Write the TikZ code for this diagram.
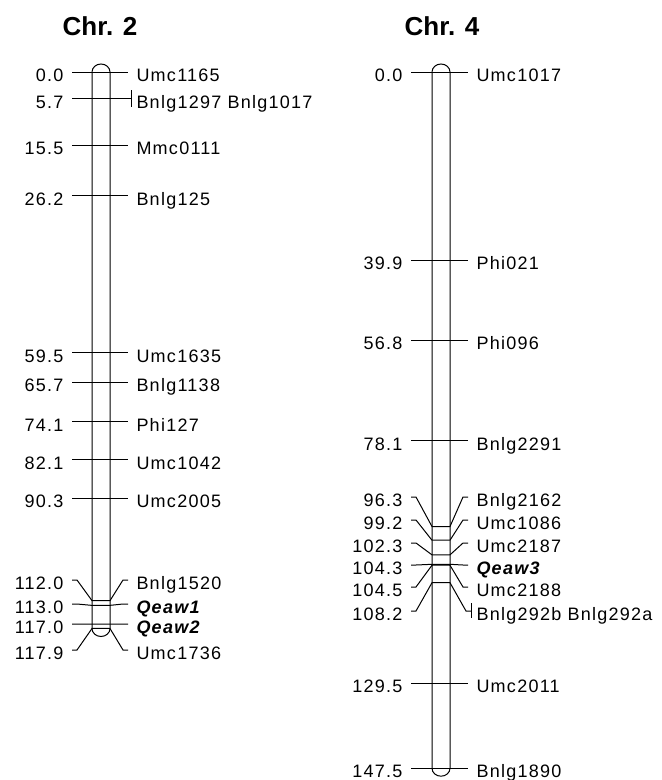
\documentclass[tikz,border=0pt]{standalone}
\usepackage{fontspec}
\setmainfont{Liberation Sans}[LetterSpace=7]
\newfontfamily\ttlfont{Liberation Sans}
\usetikzlibrary{positioning}

\begin{document}
\begin{tikzpicture}[
  x=1pt,y=-1pt,
  line width=1pt,
  font=\fontsize{18}{20}\selectfont,
  lab/.style={inner ysep=0pt,text height=22pt,text depth=3pt},
  lftlab/.style={lab,anchor=east,inner xsep=8pt},
  rgtlab/.style={lab,anchor=west,inner xsep=8pt},
  grplab/.style={lab,anchor=west,inner xsep=5pt},
  mk/.style={},
  qtl/.style={font=\fontsize{18}{20}\selectfont\bfseries\itshape},
  ttl/.style={font=\ttlfont\bfseries\fontsize{26}{28}\selectfont,anchor=base}
]
\useasboundingbox (0,0) rectangle (662,780);

% ---- titles ----
\node[ttl] (t2) at (100,35) {Chr. 2};
\node[ttl] (t4) at (442,35) {Chr. 4};

% ---- chromosome bars ----
\draw (92,{72+4.72*117.9}) -- (92,72)
  arc[start angle=180,end angle=0,x radius=9pt,y radius=8pt]
  -- (110,{72+4.72*117.9})
  arc[start angle=0,end angle=-180,x radius=9pt,y radius=8pt] -- cycle;
\draw (432,{72+4.72*147.5}) -- (432,72)
  arc[start angle=180,end angle=0,x radius=9pt,y radius=8pt]
  -- (450,{72+4.72*147.5})
  arc[start angle=0,end angle=-180,x radius=9pt,y radius=8pt] -- cycle;

% ---- Chr. 2: single markers ----
\foreach \p/\nm [count=\i] in {0.0/Umc1165,15.5/Mmc0111,26.2/Bnlg125,
    59.5/Umc1635,65.7/Bnlg1138,74.1/Phi127,82.1/Umc1042,90.3/Umc2005}{
  \node[lftlab] (c2l\i) at (72,{72+4.72*\p}) {\p};
  \node[rgtlab] (c2r\i) at (128,{72+4.72*\p}) {\nm};
  \draw (c2l\i.east) -- (c2r\i.west);
}
% grouped markers at 5.7
\node[lftlab] (c2lg) at (72,{72+4.72*5.7}) {5.7};
\node[grplab] (c2rg) at (131,{72+4.72*5.7}) {Bnlg1297 Bnlg1017};
\draw (c2lg.east) -- (c2rg.west);
\draw ([yshift=8.5pt]c2rg.west) -- ([yshift=-8.5pt]c2rg.west);

% ---- Chr. 2: cluster near the end ----
\foreach \p/\ly/\nm/\st [count=\i] in {112.0/580/Bnlg1520/mk,
    113.0/604/Qeaw1/qtl,117.0/624/Qeaw2/qtl,117.9/650/Umc1736/mk}{
  \node[lftlab] (c2cl\i) at (72,\ly) {\p};
  \node[rgtlab,\st] (c2cr\i) at (128,\ly) {\nm};
  \draw (c2cl\i.east) -- ++(5pt,0) -- (92,{72+4.72*\p}) -- (110,{72+4.72*\p})
    -- ([xshift=-5pt]c2cr\i.west) -- (c2cr\i.west);
}

% ---- Chr. 4: single markers ----
\foreach \p/\nm [count=\i] in {0.0/Umc1017,39.9/Phi021,56.8/Phi096,
    78.1/Bnlg2291,129.5/Umc2011,147.5/Bnlg1890}{
  \node[lftlab] (c4l\i) at (411,{72+4.72*\p}) {\p};
  \node[rgtlab] (c4r\i) at (468,{72+4.72*\p}) {\nm};
  \draw (c4l\i.east) -- (c4r\i.west);
}

% ---- Chr. 4: cluster around Qeaw3 ----
\foreach \p/\ly/\nm/\st [count=\i] in {96.3/497/Bnlg2162/mk,
    99.2/520/Umc1086/mk,102.3/543/Umc2187/mk,104.3/565/Qeaw3/qtl,
    104.5/587/Umc2188/mk}{
  \node[lftlab] (c4cl\i) at (411,\ly) {\p};
  \node[rgtlab,\st] (c4cr\i) at (468,\ly) {\nm};
  \draw (c4cl\i.east) -- ++(5pt,0) -- (432,{72+4.72*\p}) -- (450,{72+4.72*\p})
    -- ([xshift=-5pt]c4cr\i.west) -- (c4cr\i.west);
}
% grouped markers at 108.2
\node[lftlab] (c4lg) at (411,611) {108.2};
\node[grplab] (c4rg) at (471,611) {Bnlg292b Bnlg292a};
\draw (c4lg.east) -- ++(5pt,0) -- (432,{72+4.72*108.2}) -- (450,{72+4.72*108.2})
  -- ([xshift=-5pt]c4rg.west) -- (c4rg.west);
\draw ([yshift=8pt]c4rg.west) -- ([yshift=-7pt]c4rg.west);

\end{tikzpicture}
\end{document}
